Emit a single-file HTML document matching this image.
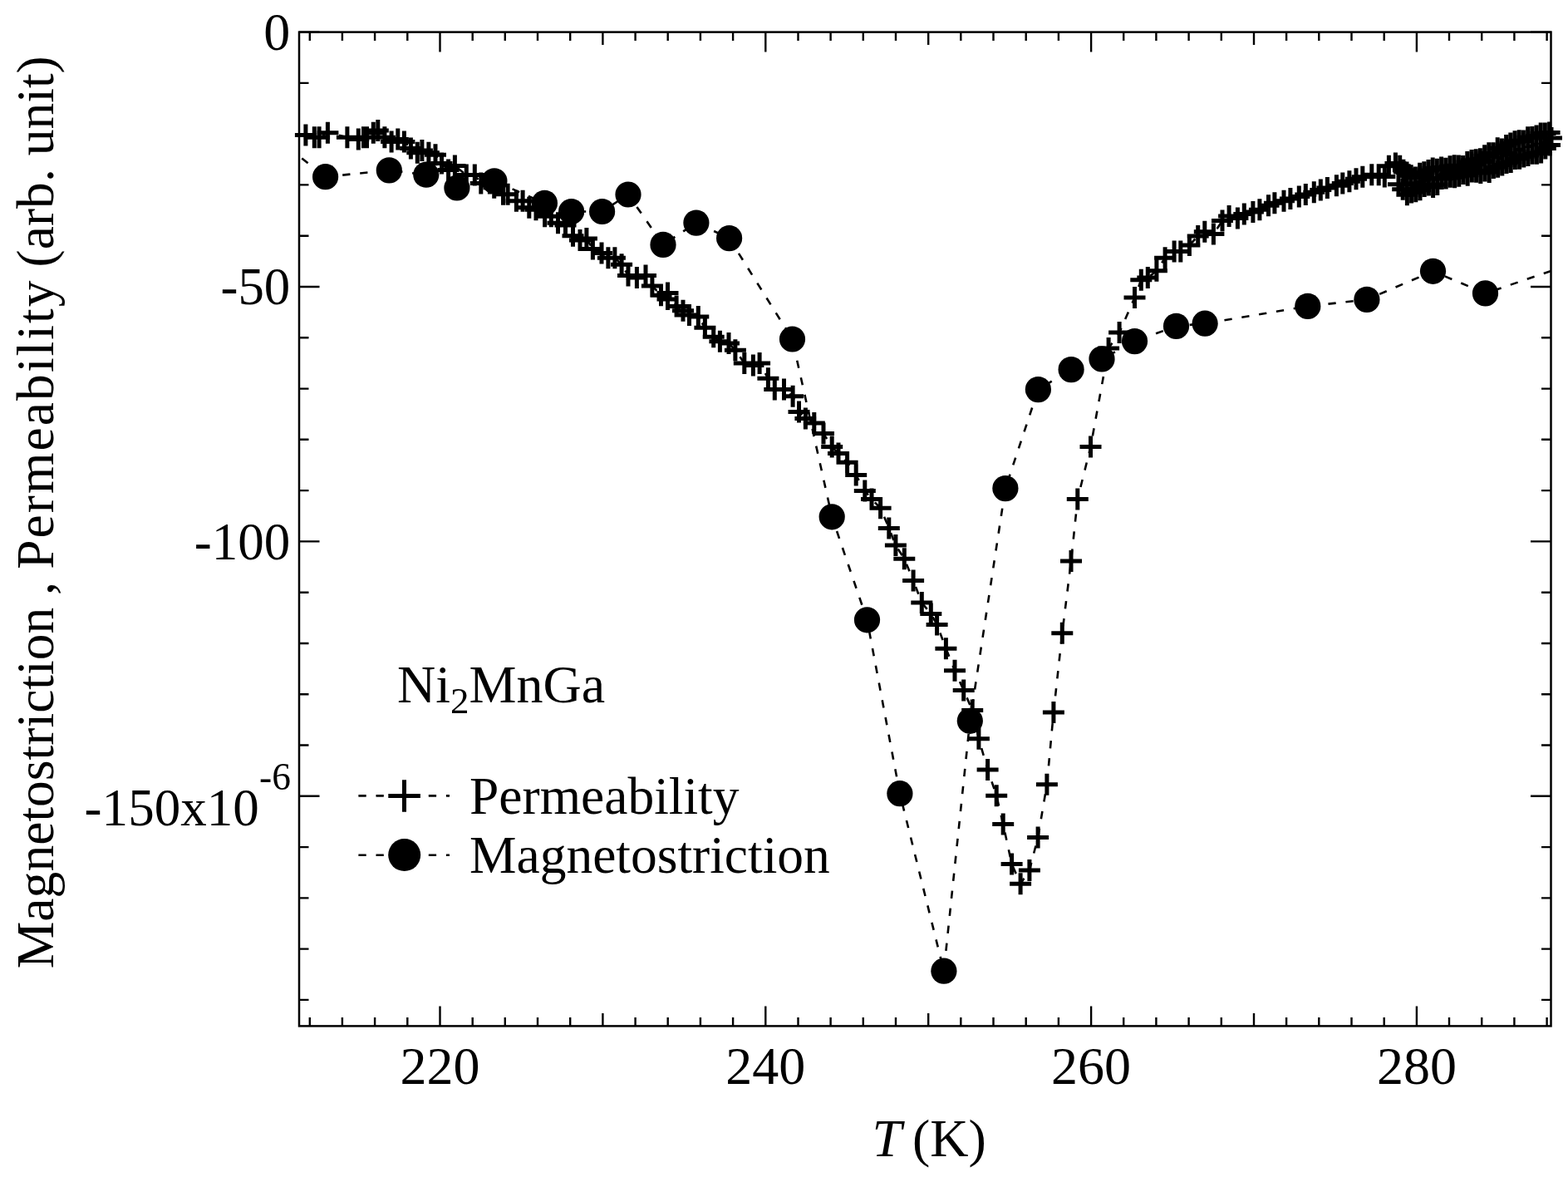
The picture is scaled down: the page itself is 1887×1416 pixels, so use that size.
<!DOCTYPE html><html><head><meta charset="utf-8"><title>Ni2MnGa magnetostriction and permeability</title>
<style>html,body{margin:0;padding:0;background:#fff;}svg{display:block;}</style></head><body>
<svg width="1887" height="1416" viewBox="0 0 1887 1416" font-family="'Liberation Serif', 'Times New Roman', serif" fill="#000">
<rect x="0" y="0" width="1887" height="1416" fill="#fff"/>
<defs><clipPath id="pc"><rect x="360" y="38.6" width="1506.5" height="1195.8"/></clipPath></defs>
<g clip-path="url(#pc)" fill="none" stroke="#000" stroke-width="2.6" stroke-dasharray="9.3 11.8">
<path d="M367.9 162.6L378.3 165.2" stroke-dashoffset="0"/>
<path d="M378.3 165.2L384.1 165.2" stroke-dashoffset="10.7"/>
<path d="M384.1 165.2L394.4 159.7" stroke-dashoffset="16.5"/>
<path d="M394.4 159.7L417.9 165.2" stroke-dashoffset="7.1"/>
<path d="M417.9 165.2L431.3 167.6" stroke-dashoffset="10.1"/>
<path d="M431.3 167.6L437.5 165.2" stroke-dashoffset="2.6"/>
<path d="M437.5 165.2L441.5 165.2" stroke-dashoffset="9.3"/>
<path d="M441.5 165.2L449.3 159.7" stroke-dashoffset="13.3"/>
<path d="M449.3 159.7L454.8 157" stroke-dashoffset="1.7"/>
<path d="M454.8 157L462.9 165.2" stroke-dashoffset="7.9"/>
<path d="M462.9 165.2L471.1 170.4" stroke-dashoffset="19.4"/>
<path d="M471.1 170.4L478.8 167.6" stroke-dashoffset="8"/>
<path d="M478.8 167.6L486.4 170.4" stroke-dashoffset="16.2"/>
<path d="M486.4 170.4L494.4 178.4" stroke-dashoffset="3.2"/>
<path d="M494.4 178.4L502.3 183.7" stroke-dashoffset="14.5"/>
<path d="M502.3 183.7L507.9 181.1" stroke-dashoffset="2.9"/>
<path d="M507.9 181.1L515.9 183.7" stroke-dashoffset="9.1"/>
<path d="M515.9 183.7L524 186.3" stroke-dashoffset="17.5"/>
<path d="M524 186.3L531.5 196.5" stroke-dashoffset="4.9"/>
<path d="M531.5 196.5L539.6 204.4" stroke-dashoffset="17.6"/>
<path d="M539.6 204.4L547.4 199.6" stroke-dashoffset="7.8"/>
<path d="M547.4 199.6L561.3 210.5" stroke-dashoffset="16.9"/>
<path d="M561.3 210.5L571.3 210.5" stroke-dashoffset="13.5"/>
<path d="M571.3 210.5L578.8 220.6" stroke-dashoffset="2.4"/>
<path d="M578.8 220.6L589.4 220.6" stroke-dashoffset="15"/>
<path d="M589.4 220.6L594.7 225.8" stroke-dashoffset="4.5"/>
<path d="M594.7 225.8L605.5 233.7" stroke-dashoffset="11.9"/>
<path d="M605.5 233.7L611.1 233.7" stroke-dashoffset="4.2"/>
<path d="M611.1 233.7L621.4 241.8" stroke-dashoffset="9.8"/>
<path d="M621.4 241.8L629.1 241.8" stroke-dashoffset="1.8"/>
<path d="M629.1 241.8L636.8 249.7" stroke-dashoffset="9.5"/>
<path d="M636.8 249.7L645 252.3" stroke-dashoffset="20.5"/>
<path d="M645 252.3L655.6 260.3" stroke-dashoffset="8"/>
<path d="M655.6 260.3L663.3 260.3" stroke-dashoffset="0.2"/>
<path d="M663.3 260.3L671.5 268.2" stroke-dashoffset="7.9"/>
<path d="M671.5 268.2L680.5 271" stroke-dashoffset="19.3"/>
<path d="M680.5 271L689.5 283.7" stroke-dashoffset="7.6"/>
<path d="M689.5 283.7L698 289" stroke-dashoffset="2.1"/>
<path d="M698 289L705.9 286.9" stroke-dashoffset="12.1"/>
<path d="M705.9 286.9L713.4 299.6" stroke-dashoffset="20.3"/>
<path d="M713.4 299.6L724 304.5" stroke-dashoffset="13.9"/>
<path d="M724 304.5L731.9 310.2" stroke-dashoffset="4.5"/>
<path d="M731.9 310.2L739.9 310.2" stroke-dashoffset="14.3"/>
<path d="M739.9 310.2L748.1 318.2" stroke-dashoffset="1.2"/>
<path d="M748.1 318.2L756 331.4" stroke-dashoffset="12.6"/>
<path d="M756 331.4L766.4 334.1" stroke-dashoffset="6.9"/>
<path d="M766.4 334.1L777 331.4" stroke-dashoffset="17.6"/>
<path d="M777 331.4L784.9 344" stroke-dashoffset="7.5"/>
<path d="M784.9 344L795.5 355.2" stroke-dashoffset="1.2"/>
<path d="M795.5 355.2L803.5 352.6" stroke-dashoffset="16.7"/>
<path d="M803.5 352.6L803.5 360" stroke-dashoffset="4"/>
<path d="M803.5 360L814.1 368.5" stroke-dashoffset="11.4"/>
<path d="M814.1 368.5L822 373.8" stroke-dashoffset="3.9"/>
<path d="M822 373.8L829.5 378.9" stroke-dashoffset="13.4"/>
<path d="M829.5 378.9L840.3 381.1" stroke-dashoffset="1.3"/>
<path d="M840.3 381.1L848.4 394.3" stroke-dashoffset="12.4"/>
<path d="M848.4 394.3L858.7 405.2" stroke-dashoffset="6.8"/>
<path d="M858.7 405.2L866.4 410.7" stroke-dashoffset="0.7"/>
<path d="M866.4 410.7L877 413.1" stroke-dashoffset="10.1"/>
<path d="M877 413.1L884.9 421.3" stroke-dashoffset="21"/>
<path d="M884.9 421.3L895.8 437" stroke-dashoffset="11.3"/>
<path d="M895.8 437L906.4 439.6" stroke-dashoffset="9.3"/>
<path d="M906.4 439.6L914.1 437" stroke-dashoffset="20.2"/>
<path d="M914.1 437L924.4 455.3" stroke-dashoffset="7.2"/>
<path d="M924.4 455.3L932.3 468.5" stroke-dashoffset="7.1"/>
<path d="M932.3 468.5L943.5 468.5" stroke-dashoffset="1.4"/>
<path d="M943.5 468.5L954.1 476.7" stroke-dashoffset="12.6"/>
<path d="M954.1 476.7L961.5 495.6" stroke-dashoffset="4.9"/>
<path d="M961.5 495.6L969.4 503.5" stroke-dashoffset="4.1"/>
<path d="M969.4 503.5L979.8 509" stroke-dashoffset="15.3"/>
<path d="M979.8 509L991 521.6" stroke-dashoffset="5.9"/>
<path d="M991 521.6L1001.2 537.5" stroke-dashoffset="1.7"/>
<path d="M1001.2 537.5L1009 545.6" stroke-dashoffset="20.6"/>
<path d="M1009 545.6L1019.6 556.3" stroke-dashoffset="10.7"/>
<path d="M1019.6 556.3L1030.2 571.6" stroke-dashoffset="4.7"/>
<path d="M1030.2 571.6L1040.8 590.5" stroke-dashoffset="2.2"/>
<path d="M1040.8 590.5L1049 600.4" stroke-dashoffset="2.8"/>
<path d="M1049 600.4L1059.6 611.3" stroke-dashoffset="15.6"/>
<path d="M1059.6 611.3L1069.8 635.4" stroke-dashoffset="9.7"/>
<path d="M1069.8 635.4L1077.9 656.1" stroke-dashoffset="14.8"/>
<path d="M1077.9 656.1L1088.3 672.3" stroke-dashoffset="15.9"/>
<path d="M1088.3 672.3L1099.1 698.5" stroke-dashoffset="14.1"/>
<path d="M1099.1 698.5L1109.3 725.1" stroke-dashoffset="13"/>
<path d="M1109.3 725.1L1120.3 738.4" stroke-dashoffset="20.4"/>
<path d="M1120.3 738.4L1127.6 751.4" stroke-dashoffset="16.5"/>
<path d="M1127.6 751.4L1138.4 780.2" stroke-dashoffset="10.4"/>
<path d="M1138.4 780.2L1149 806.7" stroke-dashoffset="20"/>
<path d="M1149 806.7L1159.7 830.4" stroke-dashoffset="6.4"/>
<path d="M1159.7 830.4L1170.2 854.6" stroke-dashoffset="11.3"/>
<path d="M1170.2 854.6L1177.9 888.8" stroke-dashoffset="16.5"/>
<path d="M1177.9 888.8L1188.6 925.9" stroke-dashoffset="9.4"/>
<path d="M1188.6 925.9L1199.2 957.2" stroke-dashoffset="5.8"/>
<path d="M1199.2 957.2L1207.2 991.5" stroke-dashoffset="17.8"/>
<path d="M1207.2 991.5L1217.6 1039.5" stroke-dashoffset="10.8"/>
<path d="M1217.6 1039.5L1228.1 1063.3" stroke-dashoffset="17.7"/>
<path d="M1228.1 1063.3L1238.9 1046.9" stroke-dashoffset="1.5"/>
<path d="M1238.9 1046.9L1249.1 1007.4" stroke-dashoffset="0"/>
<path d="M1249.1 1007.4L1259.9 943.8" stroke-dashoffset="19.7"/>
<path d="M1259.9 943.8L1267.9 857.1" stroke-dashoffset="19.6"/>
<path d="M1267.9 857.1L1278.3 761.8" stroke-dashoffset="1.2"/>
<path d="M1278.3 761.8L1289 675" stroke-dashoffset="12.6"/>
<path d="M1289 675L1296.8 600.6" stroke-dashoffset="15.7"/>
<path d="M1296.8 600.6L1312.5 537.5" stroke-dashoffset="6.1"/>
<path d="M1312.5 537.5L1334.1 419" stroke-dashoffset="7.8"/>
<path d="M1334.1 419L1347.1 400.1" stroke-dashoffset="1.7"/>
<path d="M1347.1 400.1L1365.5 358" stroke-dashoffset="3.5"/>
<path d="M1365.5 358L1373.3 336.8" stroke-dashoffset="7.3"/>
<path d="M1373.3 336.8L1381.3 334.1" stroke-dashoffset="8.7"/>
<path d="M1381.3 334.1L1391.9 325.8" stroke-dashoffset="17.2"/>
<path d="M1391.9 325.8L1402.1 310.2" stroke-dashoffset="9.6"/>
<path d="M1402.1 310.2L1413.1 302.6" stroke-dashoffset="7.1"/>
<path d="M1413.1 302.6L1420.8 302.6" stroke-dashoffset="20.5"/>
<path d="M1420.8 302.6L1431.4 294.9" stroke-dashoffset="7.1"/>
<path d="M1431.4 294.9L1441.7 284" stroke-dashoffset="20.2"/>
<path d="M1441.7 284L1449.8 278.8" stroke-dashoffset="14.1"/>
<path d="M1449.8 278.8L1460.4 281.5" stroke-dashoffset="2.6"/>
<path d="M1460.4 281.5L1471 265.5" stroke-dashoffset="13.5"/>
<path d="M1471 265.5L1479.1 260" stroke-dashoffset="11.6"/>
<path d="M1479.1 260L1489.4 262.5" stroke-dashoffset="0.3"/>
<path d="M1489.4 262.5L1497.3 257.6" stroke-dashoffset="10.9"/>
<path d="M1497.3 257.6L1507.9 255.1" stroke-dashoffset="20.2"/>
<path d="M1507.9 255.1L1515.9 252.3" stroke-dashoffset="10"/>
<path d="M1515.9 252.3L1526.5 247.2" stroke-dashoffset="18.5"/>
<path d="M1526.5 247.2L1533.9 244.3" stroke-dashoffset="9.1"/>
<path d="M1533.9 244.3L1545 241.7" stroke-dashoffset="17.1"/>
<path d="M1545 241.7L1552.9 239.1" stroke-dashoffset="7.4"/>
<path d="M1552.9 239.1L1563.3 236.4" stroke-dashoffset="15.7"/>
<path d="M1563.3 236.4L1571.3 233.9" stroke-dashoffset="5.3"/>
<path d="M1571.3 233.9L1581.3 231.2" stroke-dashoffset="13.7"/>
<path d="M1581.3 231.2L1589.3 228.5" stroke-dashoffset="3"/>
<path d="M1589.3 228.5L1597.4 226.1" stroke-dashoffset="11.4"/>
<path d="M1597.4 226.1L1608.4 223.2" stroke-dashoffset="19.9"/>
<path d="M1608.4 223.2L1615.8 220.6" stroke-dashoffset="10.2"/>
<path d="M1615.8 220.6L1623.9 218.2" stroke-dashoffset="18"/>
<path d="M1623.9 218.2L1632 215.2" stroke-dashoffset="5.3"/>
<path d="M1632 215.2L1639.8 212.7" stroke-dashoffset="14"/>
<path d="M1639.8 212.7L1650.8 210.3" stroke-dashoffset="1.1"/>
<path d="M1650.8 210.3L1659.2 210.3" stroke-dashoffset="12.3"/>
<path d="M1659.2 210.3L1666.3 212.6" stroke-dashoffset="20.7"/>
<path d="M1666.3 212.6L1671.4 199.7" stroke-dashoffset="7.1"/>
<path d="M1671.4 199.7L1679.4 196.5" stroke-dashoffset="21"/>
<path d="M1679.4 196.5L1684.7 199.7" stroke-dashoffset="8.5"/>
<path d="M1684.7 199.7L1688.9 204.7" stroke-dashoffset="14.7"/>
<path d="M1688.9 204.7L1683 221.7" stroke-dashoffset="0.1"/>
<path d="M1683 221.7L1688.2 227.8" stroke-dashoffset="18.1"/>
<path d="M1688.2 227.8L1693 207.6" stroke-dashoffset="5"/>
<path d="M1693 207.6L1693.4 234.3" stroke-dashoffset="4.6"/>
<path d="M1693.4 234.3L1698.2 211.2" stroke-dashoffset="10.1"/>
<path d="M1698.2 211.2L1698.6 231.6" stroke-dashoffset="12.6"/>
<path d="M1698.6 231.6L1703.4 213.5" stroke-dashoffset="11.9"/>
<path d="M1703.4 213.5L1703.8 230.3" stroke-dashoffset="9.6"/>
<path d="M1703.8 230.3L1708.6 208.7" stroke-dashoffset="5.3"/>
<path d="M1708.6 208.7L1709 228.3" stroke-dashoffset="6.4"/>
<path d="M1709 228.3L1713.8 207.3" stroke-dashoffset="5"/>
<path d="M1713.8 207.3L1714.2 224.1" stroke-dashoffset="5.5"/>
<path d="M1714.2 224.1L1719 205.1" stroke-dashoffset="1.2"/>
<path d="M1719 205.1L1719.4 222.5" stroke-dashoffset="20.8"/>
<path d="M1719.4 222.5L1724.2 202.5" stroke-dashoffset="17.1"/>
<path d="M1724.2 202.5L1724.6 225" stroke-dashoffset="16.6"/>
<path d="M1724.6 225L1729.4 203.7" stroke-dashoffset="18.1"/>
<path d="M1729.4 203.7L1729.8 222" stroke-dashoffset="18.7"/>
<path d="M1729.8 222L1734.6 201.5" stroke-dashoffset="15.9"/>
<path d="M1734.6 201.5L1735 215" stroke-dashoffset="15.8"/>
<path d="M1735 215L1739.8 202.7" stroke-dashoffset="8.2"/>
<path d="M1739.8 202.7L1740.2 214.6" stroke-dashoffset="0.2"/>
<path d="M1740.2 214.6L1745 200.3" stroke-dashoffset="12.1"/>
<path d="M1745 200.3L1745.4 212.8" stroke-dashoffset="6"/>
<path d="M1745.4 212.8L1750.2 199.3" stroke-dashoffset="18.6"/>
<path d="M1750.2 199.3L1750.6 213.3" stroke-dashoffset="11.8"/>
<path d="M1750.6 213.3L1755.4 199.6" stroke-dashoffset="4.7"/>
<path d="M1755.4 199.6L1755.8 211.7" stroke-dashoffset="19.1"/>
<path d="M1755.8 211.7L1760.6 200" stroke-dashoffset="10.1"/>
<path d="M1760.6 200L1761 209" stroke-dashoffset="1.7"/>
<path d="M1761 209L1765.8 194.9" stroke-dashoffset="10.6"/>
<path d="M1765.8 194.9L1766.2 210.8" stroke-dashoffset="4.4"/>
<path d="M1766.2 210.8L1771 192.9" stroke-dashoffset="20.3"/>
<path d="M1771 192.9L1771.4 206.5" stroke-dashoffset="17.8"/>
<path d="M1771.4 206.5L1776.2 192.2" stroke-dashoffset="10.2"/>
<path d="M1776.2 192.2L1776.6 206.7" stroke-dashoffset="4.1"/>
<path d="M1776.6 206.7L1781.4 191.2" stroke-dashoffset="18.6"/>
<path d="M1781.4 191.2L1781.8 208" stroke-dashoffset="13.8"/>
<path d="M1781.8 208L1786.6 187.3" stroke-dashoffset="9.6"/>
<path d="M1786.6 187.3L1787 205.6" stroke-dashoffset="9.7"/>
<path d="M1787 205.6L1791.8 184.3" stroke-dashoffset="6.9"/>
<path d="M1791.8 184.3L1792.2 207" stroke-dashoffset="7.7"/>
<path d="M1792.2 207L1797 184.3" stroke-dashoffset="9.3"/>
<path d="M1797 184.3L1797.4 202" stroke-dashoffset="11.4"/>
<path d="M1797.4 202L1802.2 178.3" stroke-dashoffset="8"/>
<path d="M1802.2 178.3L1802.6 200.7" stroke-dashoffset="11"/>
<path d="M1802.6 200.7L1807.4 179.5" stroke-dashoffset="12.3"/>
<path d="M1807.4 179.5L1807.8 198.6" stroke-dashoffset="13"/>
<path d="M1807.8 198.6L1812.6 175.1" stroke-dashoffset="11"/>
<path d="M1812.6 175.1L1813 195.9" stroke-dashoffset="13.9"/>
<path d="M1813 195.9L1817.8 172.5" stroke-dashoffset="13.5"/>
<path d="M1817.8 172.5L1818.2 195.1" stroke-dashoffset="16.3"/>
<path d="M1818.2 195.1L1823 170.3" stroke-dashoffset="17.9"/>
<path d="M1823 170.3L1823.4 190.9" stroke-dashoffset="0.9"/>
<path d="M1823.4 190.9L1828.2 169.2" stroke-dashoffset="0.4"/>
<path d="M1828.2 169.2L1828.6 190.7" stroke-dashoffset="1.6"/>
<path d="M1828.6 190.7L1833.4 169.5" stroke-dashoffset="1.9"/>
<path d="M1833.4 169.5L1833.8 188.6" stroke-dashoffset="2.6"/>
<path d="M1833.8 188.6L1838.6 165.2" stroke-dashoffset="0.6"/>
<path d="M1838.6 165.2L1839 186.9" stroke-dashoffset="3.5"/>
<path d="M1839 186.9L1843.8 165" stroke-dashoffset="4.1"/>
<path d="M1843.8 165L1844.2 184.8" stroke-dashoffset="5.5"/>
<path d="M1844.2 184.8L1849 163.4" stroke-dashoffset="4.2"/>
<path d="M1849 163.4L1849.4 184.7" stroke-dashoffset="5.1"/>
<path d="M1849.4 184.7L1854.2 160.5" stroke-dashoffset="5.4"/>
<path d="M1854.2 160.5L1854.6 183.5" stroke-dashoffset="9"/>
<path d="M1854.6 183.5L1859.4 160.6" stroke-dashoffset="11"/>
<path d="M1859.4 160.6L1859.8 178.4" stroke-dashoffset="13.3"/>
<path d="M1859.8 178.4L1864.6 159.6" stroke-dashoffset="9.9"/>
<path d="M1864.6 159.6L1865 174.4" stroke-dashoffset="8.1"/>
<path d="M1865 174.4L1867 166" stroke-dashoffset="1.8"/>
<path d="M330 164.6L391.6 212.7" stroke-dashoffset="0"/>
<path d="M391.6 212.7L468.3 204.9" stroke-dashoffset="0.4"/>
<path d="M468.3 204.9L512.8 210.2" stroke-dashoffset="14.2"/>
<path d="M512.8 210.2L549.9 226" stroke-dashoffset="16.8"/>
<path d="M549.9 226L594.9 217.8" stroke-dashoffset="14.9"/>
<path d="M594.9 217.8L655.4 244.4" stroke-dashoffset="18.5"/>
<path d="M655.4 244.4L687.6 254.5" stroke-dashoffset="0.2"/>
<path d="M687.6 254.5L724.6 254.5" stroke-dashoffset="12.8"/>
<path d="M724.6 254.5L756 234" stroke-dashoffset="7.6"/>
<path d="M756 234L798 294.4" stroke-dashoffset="2.9"/>
<path d="M798 294.4L837.9 268.1" stroke-dashoffset="13.2"/>
<path d="M837.9 268.1L877.6 286.6" stroke-dashoffset="18.8"/>
<path d="M877.6 286.6L953.5 408" stroke-dashoffset="20.7"/>
<path d="M953.5 408L1001.2 621.8" stroke-dashoffset="15.9"/>
<path d="M1001.2 621.8L1043.5 745.8" stroke-dashoffset="2.9"/>
<path d="M1043.5 745.8L1082.9 954.7" stroke-dashoffset="7.3"/>
<path d="M1082.9 954.7L1135.9 1168.2" stroke-dashoffset="8.9"/>
<path d="M1135.9 1168.2L1167.3 867.3" stroke-dashoffset="17.8"/>
<path d="M1167.3 867.3L1209.9 587.6" stroke-dashoffset="3.9"/>
<path d="M1209.9 587.6L1249.4 468.6" stroke-dashoffset="12.5"/>
<path d="M1249.4 468.6L1289.1 444.6" stroke-dashoffset="11.3"/>
<path d="M1289.1 444.6L1326 431.9" stroke-dashoffset="15.5"/>
<path d="M1326 431.9L1365.5 410.6" stroke-dashoffset="12.3"/>
<path d="M1365.5 410.6L1415.5 392.4" stroke-dashoffset="15"/>
<path d="M1415.5 392.4L1450.1 389.2" stroke-dashoffset="4.9"/>
<path d="M1450.1 389.2L1573.8 368.4" stroke-dashoffset="18.5"/>
<path d="M1573.8 368.4L1644.9 360.4" stroke-dashoffset="17.4"/>
<path d="M1644.9 360.4L1724.5 326.3" stroke-dashoffset="4.5"/>
<path d="M1724.5 326.3L1787.5 352.9" stroke-dashoffset="5.6"/>
<path d="M1787.5 352.9L1930 304.5" stroke-dashoffset="10.2"/>
</g>
<path d="M354.9 162.6h26M367.9 149.6v26M365.3 165.2h26M378.3 152.2v26M371.1 165.2h26M384.1 152.2v26M381.4 159.7h26M394.4 146.7v26M404.9 165.2h26M417.9 152.2v26M418.3 167.6h26M431.3 154.6v26M424.5 165.2h26M437.5 152.2v26M428.5 165.2h26M441.5 152.2v26M436.3 159.7h26M449.3 146.7v26M441.8 157h26M454.8 144v26M449.9 165.2h26M462.9 152.2v26M458.1 170.4h26M471.1 157.4v26M465.8 167.6h26M478.8 154.6v26M473.4 170.4h26M486.4 157.4v26M481.4 178.4h26M494.4 165.4v26M489.3 183.7h26M502.3 170.7v26M494.9 181.1h26M507.9 168.1v26M502.9 183.7h26M515.9 170.7v26M511 186.3h26M524 173.3v26M518.5 196.5h26M531.5 183.5v26M526.6 204.4h26M539.6 191.4v26M534.4 199.6h26M547.4 186.6v26M548.3 210.5h26M561.3 197.5v26M558.3 210.5h26M571.3 197.5v26M565.8 220.6h26M578.8 207.6v26M576.4 220.6h26M589.4 207.6v26M581.7 225.8h26M594.7 212.8v26M592.5 233.7h26M605.5 220.7v26M598.1 233.7h26M611.1 220.7v26M608.4 241.8h26M621.4 228.8v26M616.1 241.8h26M629.1 228.8v26M623.8 249.7h26M636.8 236.7v26M632 252.3h26M645 239.3v26M642.6 260.3h26M655.6 247.3v26M650.3 260.3h26M663.3 247.3v26M658.5 268.2h26M671.5 255.2v26M667.5 271h26M680.5 258v26M676.5 283.7h26M689.5 270.7v26M685 289h26M698 276v26M692.9 286.9h26M705.9 273.9v26M700.4 299.6h26M713.4 286.6v26M711 304.5h26M724 291.5v26M718.9 310.2h26M731.9 297.2v26M726.9 310.2h26M739.9 297.2v26M735.1 318.2h26M748.1 305.2v26M743 331.4h26M756 318.4v26M753.4 334.1h26M766.4 321.1v26M764 331.4h26M777 318.4v26M771.9 344h26M784.9 331v26M782.5 355.2h26M795.5 342.2v26M790.5 352.6h26M803.5 339.6v26M790.5 360h26M803.5 347v26M801.1 368.5h26M814.1 355.5v26M809 373.8h26M822 360.8v26M816.5 378.9h26M829.5 365.9v26M827.3 381.1h26M840.3 368.1v26M835.4 394.3h26M848.4 381.3v26M845.7 405.2h26M858.7 392.2v26M853.4 410.7h26M866.4 397.7v26M864 413.1h26M877 400.1v26M871.9 421.3h26M884.9 408.3v26M882.8 437h26M895.8 424v26M893.4 439.6h26M906.4 426.6v26M901.1 437h26M914.1 424v26M911.4 455.3h26M924.4 442.3v26M919.3 468.5h26M932.3 455.5v26M930.5 468.5h26M943.5 455.5v26M941.1 476.7h26M954.1 463.7v26M948.5 495.6h26M961.5 482.6v26M956.4 503.5h26M969.4 490.5v26M966.8 509h26M979.8 496v26M978 521.6h26M991 508.6v26M988.2 537.5h26M1001.2 524.5v26M996 545.6h26M1009 532.6v26M1006.6 556.3h26M1019.6 543.3v26M1017.2 571.6h26M1030.2 558.6v26M1027.8 590.5h26M1040.8 577.5v26M1036 600.4h26M1049 587.4v26M1046.6 611.3h26M1059.6 598.3v26M1056.8 635.4h26M1069.8 622.4v26M1064.9 656.1h26M1077.9 643.1v26M1075.3 672.3h26M1088.3 659.3v26M1086.1 698.5h26M1099.1 685.5v26M1096.3 725.1h26M1109.3 712.1v26M1107.3 738.4h26M1120.3 725.4v26M1114.6 751.4h26M1127.6 738.4v26M1125.4 780.2h26M1138.4 767.2v26M1136 806.7h26M1149 793.7v26M1146.7 830.4h26M1159.7 817.4v26M1157.2 854.6h26M1170.2 841.6v26M1164.9 888.8h26M1177.9 875.8v26M1175.6 925.9h26M1188.6 912.9v26M1186.2 957.2h26M1199.2 944.2v26M1194.2 991.5h26M1207.2 978.5v26M1204.6 1039.5h26M1217.6 1026.5v26M1215.1 1063.3h26M1228.1 1050.3v26M1225.9 1046.9h26M1238.9 1033.9v26M1236.1 1007.4h26M1249.1 994.4v26M1246.9 943.8h26M1259.9 930.8v26M1254.9 857.1h26M1267.9 844.1v26M1265.3 761.8h26M1278.3 748.8v26M1276 675h26M1289 662v26M1283.8 600.6h26M1296.8 587.6v26M1299.5 537.5h26M1312.5 524.5v26M1321.1 419h26M1334.1 406v26M1334.1 400.1h26M1347.1 387.1v26M1352.5 358h26M1365.5 345v26M1360.3 336.8h26M1373.3 323.8v26M1368.3 334.1h26M1381.3 321.1v26M1378.9 325.8h26M1391.9 312.8v26M1389.1 310.2h26M1402.1 297.2v26M1400.1 302.6h26M1413.1 289.6v26M1407.8 302.6h26M1420.8 289.6v26M1418.4 294.9h26M1431.4 281.9v26M1428.7 284h26M1441.7 271v26M1436.8 278.8h26M1449.8 265.8v26M1447.4 281.5h26M1460.4 268.5v26M1458 265.5h26M1471 252.5v26M1466.1 260h26M1479.1 247v26M1476.4 262.5h26M1489.4 249.5v26M1484.3 257.6h26M1497.3 244.6v26M1494.9 255.1h26M1507.9 242.1v26M1502.9 252.3h26M1515.9 239.3v26M1513.5 247.2h26M1526.5 234.2v26M1520.9 244.3h26M1533.9 231.3v26M1532 241.7h26M1545 228.7v26M1539.9 239.1h26M1552.9 226.1v26M1550.3 236.4h26M1563.3 223.4v26M1558.3 233.9h26M1571.3 220.9v26M1568.3 231.2h26M1581.3 218.2v26M1576.3 228.5h26M1589.3 215.5v26M1584.4 226.1h26M1597.4 213.1v26M1595.4 223.2h26M1608.4 210.2v26M1602.8 220.6h26M1615.8 207.6v26M1610.9 218.2h26M1623.9 205.2v26M1619 215.2h26M1632 202.2v26M1626.8 212.7h26M1639.8 199.7v26M1637.8 210.3h26M1650.8 197.3v26M1646.2 210.3h26M1659.2 197.3v26M1653.3 212.6h26M1666.3 199.6v26M1658.4 199.7h26M1671.4 186.7v26M1666.4 196.5h26M1679.4 183.5v26M1671.7 199.7h26M1684.7 186.7v26M1675.9 204.7h26M1688.9 191.7v26M1670 221.7h26M1683 208.7v26M1675.2 227.8h26M1688.2 214.8v26M1680 207.6h26M1693 194.6v26M1680.4 234.3h26M1693.4 221.3v26M1685.2 211.2h26M1698.2 198.2v26M1685.6 231.6h26M1698.6 218.6v26M1690.4 213.5h26M1703.4 200.5v26M1690.8 230.3h26M1703.8 217.3v26M1695.6 208.7h26M1708.6 195.7v26M1696 228.3h26M1709 215.3v26M1700.8 207.3h26M1713.8 194.3v26M1701.2 224.1h26M1714.2 211.1v26M1706 205.1h26M1719 192.1v26M1706.4 222.5h26M1719.4 209.5v26M1711.2 202.5h26M1724.2 189.5v26M1711.6 225h26M1724.6 212v26M1716.4 203.7h26M1729.4 190.7v26M1716.8 222h26M1729.8 209v26M1721.6 201.5h26M1734.6 188.5v26M1722 215h26M1735 202v26M1726.8 202.7h26M1739.8 189.7v26M1727.2 214.6h26M1740.2 201.6v26M1732 200.3h26M1745 187.3v26M1732.4 212.8h26M1745.4 199.8v26M1737.2 199.3h26M1750.2 186.3v26M1737.6 213.3h26M1750.6 200.3v26M1742.4 199.6h26M1755.4 186.6v26M1742.8 211.7h26M1755.8 198.7v26M1747.6 200h26M1760.6 187v26M1748 209h26M1761 196v26M1752.8 194.9h26M1765.8 181.9v26M1753.2 210.8h26M1766.2 197.8v26M1758 192.9h26M1771 179.9v26M1758.4 206.5h26M1771.4 193.5v26M1763.2 192.2h26M1776.2 179.2v26M1763.6 206.7h26M1776.6 193.7v26M1768.4 191.2h26M1781.4 178.2v26M1768.8 208h26M1781.8 195v26M1773.6 187.3h26M1786.6 174.3v26M1774 205.6h26M1787 192.6v26M1778.8 184.3h26M1791.8 171.3v26M1779.2 207h26M1792.2 194v26M1784 184.3h26M1797 171.3v26M1784.4 202h26M1797.4 189v26M1789.2 178.3h26M1802.2 165.3v26M1789.6 200.7h26M1802.6 187.7v26M1794.4 179.5h26M1807.4 166.5v26M1794.8 198.6h26M1807.8 185.6v26M1799.6 175.1h26M1812.6 162.1v26M1800 195.9h26M1813 182.9v26M1804.8 172.5h26M1817.8 159.5v26M1805.2 195.1h26M1818.2 182.1v26M1810 170.3h26M1823 157.3v26M1810.4 190.9h26M1823.4 177.9v26M1815.2 169.2h26M1828.2 156.2v26M1815.6 190.7h26M1828.6 177.7v26M1820.4 169.5h26M1833.4 156.5v26M1820.8 188.6h26M1833.8 175.6v26M1825.6 165.2h26M1838.6 152.2v26M1826 186.9h26M1839 173.9v26M1830.8 165h26M1843.8 152v26M1831.2 184.8h26M1844.2 171.8v26M1836 163.4h26M1849 150.4v26M1836.4 184.7h26M1849.4 171.7v26M1841.2 160.5h26M1854.2 147.5v26M1841.6 183.5h26M1854.6 170.5v26M1846.4 160.6h26M1859.4 147.6v26M1846.8 178.4h26M1859.8 165.4v26M1851.6 159.6h26M1864.6 146.6v26M1852 174.4h26M1865 161.4v26M1854 166h26M1867 153v26" stroke="#000" stroke-width="5" fill="none"/>
<circle cx="391.6" cy="212.7" r="15.6"/>
<circle cx="468.3" cy="204.9" r="15.6"/>
<circle cx="512.8" cy="210.2" r="15.6"/>
<circle cx="549.9" cy="226" r="15.6"/>
<circle cx="594.9" cy="217.8" r="15.6"/>
<circle cx="655.4" cy="244.4" r="15.6"/>
<circle cx="687.6" cy="254.5" r="15.6"/>
<circle cx="724.6" cy="254.5" r="15.6"/>
<circle cx="756" cy="234" r="15.6"/>
<circle cx="798" cy="294.4" r="15.6"/>
<circle cx="837.9" cy="268.1" r="15.6"/>
<circle cx="877.6" cy="286.6" r="15.6"/>
<circle cx="953.5" cy="408" r="15.6"/>
<circle cx="1001.2" cy="621.8" r="15.6"/>
<circle cx="1043.5" cy="745.8" r="15.6"/>
<circle cx="1082.9" cy="954.7" r="15.6"/>
<circle cx="1135.9" cy="1168.2" r="15.6"/>
<circle cx="1167.3" cy="867.3" r="15.6"/>
<circle cx="1209.9" cy="587.6" r="15.6"/>
<circle cx="1249.4" cy="468.6" r="15.6"/>
<circle cx="1289.1" cy="444.6" r="15.6"/>
<circle cx="1326" cy="431.9" r="15.6"/>
<circle cx="1365.5" cy="410.6" r="15.6"/>
<circle cx="1415.5" cy="392.4" r="15.6"/>
<circle cx="1450.1" cy="389.2" r="15.6"/>
<circle cx="1573.8" cy="368.4" r="15.6"/>
<circle cx="1644.9" cy="360.4" r="15.6"/>
<circle cx="1724.5" cy="326.3" r="15.6"/>
<circle cx="1787.5" cy="352.9" r="15.6"/>
<rect x="360" y="38.6" width="1506.5" height="1195.8" fill="none" stroke="#000" stroke-width="2.5"/>
<path d="M372.8 1234.4v-10.5M372.8 38.6v10.5M411.9 1234.4v-10.5M411.9 38.6v10.5M451.1 1234.4v-10.5M451.1 38.6v10.5M490.3 1234.4v-10.5M490.3 38.6v10.5M529.5 1234.4v-24M529.5 38.6v24M568.7 1234.4v-10.5M568.7 38.6v10.5M607.8 1234.4v-10.5M607.8 38.6v10.5M647 1234.4v-10.5M647 38.6v10.5M686.2 1234.4v-10.5M686.2 38.6v10.5M725.4 1234.4v-15.5M725.4 38.6v15.5M764.6 1234.4v-10.5M764.6 38.6v10.5M803.7 1234.4v-10.5M803.7 38.6v10.5M842.9 1234.4v-10.5M842.9 38.6v10.5M882.1 1234.4v-10.5M882.1 38.6v10.5M921.3 1234.4v-24M921.3 38.6v24M960.5 1234.4v-10.5M960.5 38.6v10.5M999.6 1234.4v-10.5M999.6 38.6v10.5M1038.8 1234.4v-10.5M1038.8 38.6v10.5M1078 1234.4v-10.5M1078 38.6v10.5M1117.2 1234.4v-15.5M1117.2 38.6v15.5M1156.3 1234.4v-10.5M1156.3 38.6v10.5M1195.5 1234.4v-10.5M1195.5 38.6v10.5M1234.7 1234.4v-10.5M1234.7 38.6v10.5M1273.9 1234.4v-10.5M1273.9 38.6v10.5M1313.1 1234.4v-24M1313.1 38.6v24M1352.2 1234.4v-10.5M1352.2 38.6v10.5M1391.4 1234.4v-10.5M1391.4 38.6v10.5M1430.6 1234.4v-10.5M1430.6 38.6v10.5M1469.8 1234.4v-10.5M1469.8 38.6v10.5M1509 1234.4v-15.5M1509 38.6v15.5M1548.1 1234.4v-10.5M1548.1 38.6v10.5M1587.3 1234.4v-10.5M1587.3 38.6v10.5M1626.5 1234.4v-10.5M1626.5 38.6v10.5M1665.7 1234.4v-10.5M1665.7 38.6v10.5M1704.9 1234.4v-24M1704.9 38.6v24M1744 1234.4v-10.5M1744 38.6v10.5M1783.2 1234.4v-10.5M1783.2 38.6v10.5M1822.4 1234.4v-10.5M1822.4 38.6v10.5M1861.6 1234.4v-10.5M1861.6 38.6v10.5M360 38.6h24.5M1866.5 38.6h-24.5M360 99.9h11.5M1866.5 99.9h-11.5M360 161.2h11.5M1866.5 161.2h-11.5M360 222.4h11.5M1866.5 222.4h-11.5M360 283.7h11.5M1866.5 283.7h-11.5M360 345h24.5M1866.5 345h-24.5M360 406.3h11.5M1866.5 406.3h-11.5M360 467.6h11.5M1866.5 467.6h-11.5M360 528.8h11.5M1866.5 528.8h-11.5M360 590.1h11.5M1866.5 590.1h-11.5M360 651.4h24.5M1866.5 651.4h-24.5M360 712.7h11.5M1866.5 712.7h-11.5M360 774h11.5M1866.5 774h-11.5M360 835.2h11.5M1866.5 835.2h-11.5M360 896.5h11.5M1866.5 896.5h-11.5M360 957.8h24.5M1866.5 957.8h-24.5M360 1019.1h11.5M1866.5 1019.1h-11.5M360 1080.4h11.5M1866.5 1080.4h-11.5M360 1141.6h11.5M1866.5 1141.6h-11.5M360 1202.9h11.5M1866.5 1202.9h-11.5" stroke="#000" stroke-width="2.4" fill="none"/>
<g font-size="64" text-anchor="end">
<text x="349.3" y="60">0</text>
<text x="349.3" y="366.3" textLength="83.8" lengthAdjust="spacingAndGlyphs">-50</text>
<text x="349.3" y="673.2" textLength="115.5" lengthAdjust="spacingAndGlyphs">-100</text>
</g>
<text x="101.6" y="992.5" font-size="64" textLength="210.2" lengthAdjust="spacingAndGlyphs">-150x10</text>
<text x="312" y="950" font-size="45.5">-6</text>
<g font-size="64" text-anchor="middle">
<text x="529.5" y="1304">220</text>
<text x="921.3" y="1304">240</text>
<text x="1313.1" y="1304">260</text>
<text x="1704.9" y="1304">280</text>
</g>
<text x="1049.4" y="1390.8" font-size="64" font-style="italic">T</text>
<text x="1098" y="1390.8" font-size="64">(K)</text>
<g transform="translate(63.5 0) rotate(-90)" font-size="63.6">
<text x="-1165.2">Magnetostriction</text>
<text x="-716">,</text>
<text x="-684.8" textLength="347.3" lengthAdjust="spacing">Permeability</text>
<text x="-321.5">(arb. unit)</text>
</g>
<text x="478" y="845.3" font-size="64">Ni<tspan font-size="45" dy="12.7">2</tspan><tspan dy="-12.7">MnGa</tspan></text>
<g fill="none" stroke="#000" stroke-width="2.6" stroke-dasharray="9.3 11.8">
<path d="M431.4 957.4H541M431.4 1028.8H541"/>
</g>
<path d="M467.3 957.6h38.6M486.5 938.2v38.6" stroke="#000" stroke-width="5" fill="none"/>
<circle cx="486.7" cy="1028.6" r="19.5"/>
<text x="565" y="979" font-size="63.5">Permeability</text>
<text x="565" y="1050" font-size="63.5">Magnetostriction</text>
</svg></body></html>
